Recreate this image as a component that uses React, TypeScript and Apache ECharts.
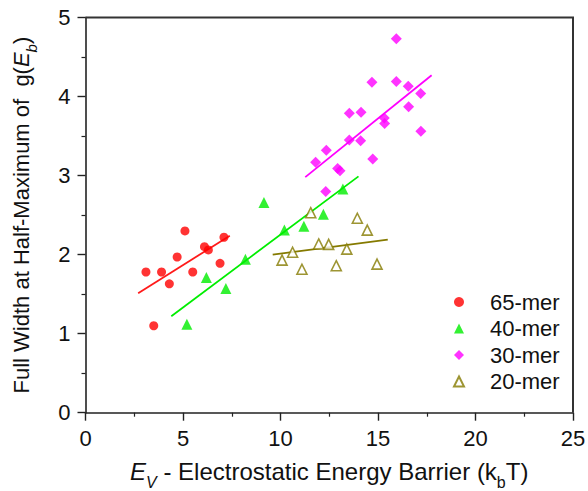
import React, { useEffect, useRef } from "react";
import * as echarts from "echarts";

const xTicks = [0, 5, 10, 15, 20, 25];
const yTicks = [0, 1, 2, 3, 4, 5];

const mer65X = [3.1, 3.5, 3.9, 4.3, 4.7, 5.1, 5.5, 6.1, 6.3, 6.9, 7.1];
const mer65Y = [1.78, 1.1, 1.78, 1.63, 1.97, 2.3, 1.78, 2.1, 2.06, 1.89, 2.22];
const fit65X = [2.7, 7.4];
const fit65Y = [1.51, 2.24];

const mer40X = [5.2, 6.2, 7.2, 8.2, 9.15, 10.2, 11.2, 12.2, 13.2];
const mer40Y = [1.12, 1.71, 1.57, 1.94, 2.66, 2.31, 2.36, 2.51, 2.83];
const fit40X = [4.4, 14.0];
const fit40Y = [1.22, 2.99];

const mer30X = [12.32, 11.8, 12.35, 12.93, 13.05, 13.53, 14.11, 14.73, 13.53, 14.13, 15.32, 15.34, 17.2, 14.69, 15.94, 16.55, 16.57, 17.19, 15.94];
const mer30Y = [2.8, 3.17, 3.32, 3.09, 3.06, 3.45, 3.44, 3.21, 3.79, 3.8, 3.73, 3.66, 3.56, 4.18, 4.19, 4.13, 3.87, 4.04, 4.73];
const fit30X = [11.27, 17.75];
const fit30Y = [2.98, 4.27];

const mer20X = [10.08, 10.62, 11.1, 11.55, 11.96, 12.47, 12.86, 13.4, 13.94, 14.45, 14.95];
const mer20Y = [1.93, 2.03, 1.815, 2.53, 2.135, 2.13, 1.86, 2.07, 2.46, 2.31, 1.88];
const fit20X = [9.6, 15.5];
const fit20Y = [2.0, 2.19];

const seriesNames = ["65-mer", "40-mer", "30-mer", "20-mer"];

const zip = (xs: number[], ys: number[]) => xs.map((x, i) => [x, ys[i]]);

const FONT = "'Liberation Sans', Arial, sans-serif";

export default function App() {
  const ref = useRef<HTMLDivElement>(null);
  useEffect(() => {
    document.body.style.margin = "0";
    if (!ref.current) return;
    const chart = echarts.init(ref.current, undefined, { renderer: "svg" });
    const xMin = xTicks[0];
    const xMax = xTicks[xTicks.length - 1];
    const yMin = yTicks[0];
    const yMax = yTicks[yTicks.length - 1];
    const axisCommon = {
      axisLine: { show: true, onZero: false, lineStyle: { color: "#222", width: 1.6 } },
      axisTick: { show: true, inside: false, length: 8, lineStyle: { color: "#222", width: 1.4 } },
      minorTick: { show: true, splitNumber: 2, length: 4, lineStyle: { color: "#222", width: 1.2 } },
      splitLine: { show: false },
      axisLabel: { fontSize: 22, color: "#111", fontFamily: FONT, margin: 15 },
    };
    const richX = {
      m: { fontSize: 24, fontFamily: FONT, color: "#111" },
      i: { fontSize: 24, fontFamily: FONT, color: "#111", fontStyle: "italic" },
      si: { fontSize: 16, fontFamily: FONT, color: "#111", fontStyle: "italic", padding: [22, 0, 0, 0] },
      s: { fontSize: 16, fontFamily: FONT, color: "#111", padding: [22, 0, 0, 0] },
    };
    const richY = {
      m: { fontSize: 22, fontFamily: FONT, color: "#111" },
      i: { fontSize: 22, fontFamily: FONT, color: "#111", fontStyle: "italic" },
      si: { fontSize: 15, fontFamily: FONT, color: "#111", fontStyle: "italic", padding: [20, 0, 0, 0] },
    };
    const fitSeries = (xs: number[], ys: number[], color: string) => ({
      type: "line",
      data: zip(xs, ys),
      showSymbol: false,
      symbol: "none",
      lineStyle: { color, width: 1.8 },
      z: 2,
    });
    const option: any = {
      animation: false,
      backgroundColor: "#fff",
      textStyle: { fontFamily: FONT },
      grid: {
        left: 85.5,
        top: 17.5,
        right: 15,
        bottom: 78.3,
        containLabel: false,
        outerBoundsMode: "none",
      },
      xAxis: {
        type: "value",
        min: xMin,
        max: xMax,
        interval: 5,
        ...axisCommon,
        name: "{i|E}{si|V}{m| - Electrostatic Energy Barrier (k}{s|b}{m|T)}",
        nameLocation: "middle",
        nameGap: 40,
        nameTextStyle: { rich: richX },
      },
      yAxis: {
        type: "value",
        min: yMin,
        max: yMax,
        interval: 1,
        ...axisCommon,
        name: "{m|Full Width at Half-Maximum of  g(}{i|E}{si|b}{m|)}",
        nameLocation: "middle",
        nameGap: 47,
        nameTextStyle: { rich: richY },
      },
      legend: {
        orient: "vertical",
        left: 448,
        top: 286,
        itemWidth: 10,
        itemHeight: 10,
        itemGap: 4.5,
        data: seriesNames,
        textStyle: { fontSize: 22, color: "#111", fontFamily: FONT, padding: [0, 0, 0, 21], lineHeight: 21 },
      },
      series: [
        {
          name: seriesNames[0],
          type: "scatter",
          symbol: "circle",
          symbolSize: 9,
          itemStyle: { color: "#ff0000" },
          data: zip(mer65X, mer65Y),
          z: 3,
        },
        {
          name: seriesNames[1],
          type: "scatter",
          symbol: "triangle",
          symbolSize: 11,
          itemStyle: { color: "#00ee00" },
          data: zip(mer40X, mer40Y),
          z: 3,
        },
        {
          name: seriesNames[2],
          type: "scatter",
          symbol: "diamond",
          symbolSize: 11,
          itemStyle: { color: "#ff00ff" },
          data: zip(mer30X, mer30Y),
          z: 3,
        },
        {
          name: seriesNames[3],
          type: "scatter",
          symbol: "triangle",
          symbolSize: 10,
          itemStyle: { color: "#ffffff", borderColor: "#857a00", borderWidth: 1.6 },
          data: zip(mer20X, mer20Y),
          z: 3,
        },
        fitSeries(fit65X, fit65Y, "#ff1a1a"),
        fitSeries(fit40X, fit40Y, "#00ee00"),
        fitSeries(fit30X, fit30Y, "#ff00ff"),
        fitSeries(fit20X, fit20Y, "#857a00"),
      ],
    };
    chart.setOption(option);
    const tl = chart.convertToPixel({ gridIndex: 0 }, [xMin, yMax]) as number[];
    const br = chart.convertToPixel({ gridIndex: 0 }, [xMax, yMin]) as number[];
    if (tl && br) {
      chart.setOption({
        graphic: [
          {
            type: "polyline",
            silent: true,
            z: 10,
            shape: { points: [[tl[0], tl[1]], [br[0], tl[1]], [br[0], br[1]]] },
            style: { stroke: "#333", lineWidth: 2, fill: "none" },
          },
        ],
      });
    }
    return () => chart.dispose();
  }, []);
  return <div ref={ref} style={{ position: "absolute", left: 0, top: 0, width: 588, height: 491 }} />;
}
